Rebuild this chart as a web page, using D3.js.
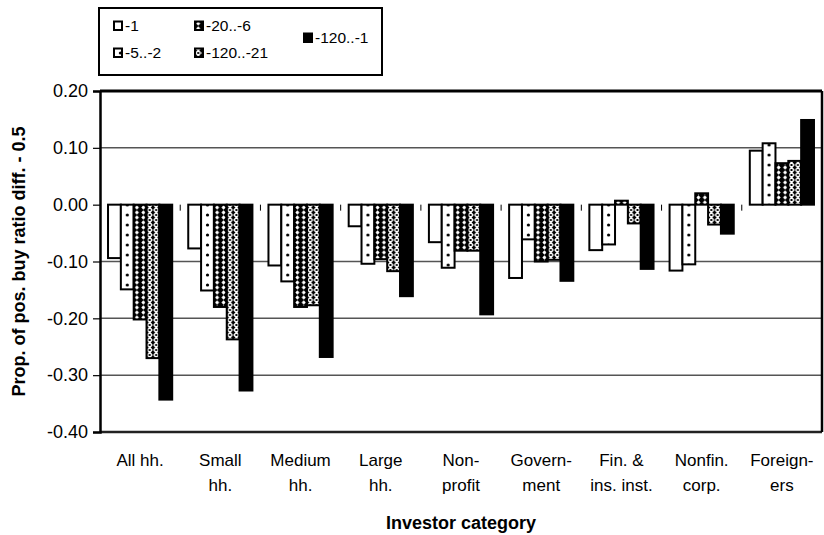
<!DOCTYPE html>
<html>
<head>
<meta charset="utf-8">
<script src="https://cdn.jsdelivr.net/npm/d3@7"></script>
<style>
  body { margin: 0; background: #fff; }
  text { font-family: "Liberation Sans", Arial, sans-serif; fill: #000; }
</style>
</head>
<body>
<div id="chart"></div>
<script>
// categories (two label lines each) and the five series
const categories = ["All hh.", "Small hh.", "Medium hh.", "Large hh.", "Non-profit",
                    "Government", "Fin. & ins. inst.", "Nonfin. corp.", "Foreigners"];
const categoryLines = [["All hh."], ["Small", "hh."], ["Medium", "hh."], ["Large", "hh."],
                       ["Non-", "profit"], ["Govern-", "ment"], ["Fin. &", "ins. inst."],
                       ["Nonfin.", "corp."], ["Foreign-", "ers"]];
const seriesNames = ["-1", "-5..-2", "-20..-6", "-120..-21", "-120..-1"];

const lag1      = [-0.094, -0.077, -0.107, -0.038, -0.066, -0.129, -0.080, -0.116, 0.095];
const lag5to2   = [-0.149, -0.151, -0.135, -0.104, -0.111, -0.061, -0.070, -0.105, 0.108];
const lag20to6  = [-0.202, -0.180, -0.180, -0.096, -0.081, -0.100, 0.007, 0.020, 0.073];
const lag120to21 = [-0.270, -0.237, -0.177, -0.117, -0.081, -0.097, -0.033, -0.035, 0.077];
const lag120to1 = [-0.343, -0.327, -0.268, -0.161, -0.193, -0.134, -0.113, -0.051, 0.149];
const seriesValues = [lag1, lag5to2, lag20to6, lag120to21, lag120to1];

const yTicks = [0.2, 0.1, 0.0, -0.1, -0.2, -0.3, -0.4];
const yTitle = "Prop. of pos. buy ratio diff. - 0.5";
const xTitle = "Investor category";

const width = 824, height = 535;
const plot = { left: 100, right: 822, top: 91, bottom: 432 };

const svg = d3.select("#chart").append("svg")
    .attr("width", width)
    .attr("height", height);

const x0 = d3.scaleBand().domain(categories)
    .range([plot.left, plot.right]).paddingInner(0.2).paddingOuter(0.1);
const x1 = d3.scaleBand().domain(seriesNames).range([0, x0.bandwidth()]);
const y = d3.scaleLinear().domain([-0.4, 0.2]).range([plot.bottom, plot.top]);

// fill patterns (Excel style)
const defs = svg.append("defs");
const bw = x1.bandwidth();

const dots = defs.append("pattern").attr("id", "p-dots")
    .attr("patternUnits", "userSpaceOnUse").attr("width", bw).attr("height", 10);
dots.append("rect").attr("width", bw).attr("height", 10).attr("fill", "#fff");
dots.append("circle").attr("cx", bw / 2).attr("cy", 5).attr("r", 1.6).attr("fill", "#000");

const dense = defs.append("pattern").attr("id", "p-dense")
    .attr("patternUnits", "userSpaceOnUse").attr("width", bw / 2).attr("height", 5);
dense.append("rect").attr("width", bw / 2).attr("height", 5).attr("fill", "#000");
dense.append("path")
    .attr("d", `M${bw / 4},0.3 L${bw / 4 + 2},2.5 L${bw / 4},4.7 L${bw / 4 - 2},2.5Z`)
    .attr("fill", "#fff");

const light = defs.append("pattern").attr("id", "p-light")
    .attr("patternUnits", "userSpaceOnUse").attr("width", bw / 2).attr("height", 5);
light.append("rect").attr("width", bw / 2).attr("height", 5).attr("fill", "#000");
light.append("path")
    .attr("d", `M0.8,0 L${bw / 4},2.5 L0.8,5 M${bw / 2 - 0.8},0 L${bw / 4},2.5 L${bw / 2 - 0.8},5`)
    .attr("stroke", "#fff").attr("stroke-width", 1.4).attr("fill", "none");

const fills = ["#fff", "url(#p-dots)", "url(#p-dense)", "url(#p-light)", "#000"];

// gridlines
svg.append("g").selectAll("line")
    .data(yTicks.filter(t => t !== 0 && t !== 0.2 && t !== -0.4))
    .join("line")
    .attr("x1", plot.left).attr("x2", plot.right)
    .attr("y1", d => y(d)).attr("y2", d => y(d))
    .attr("stroke", "#555").attr("stroke-width", 1.5);

// bars
const groups = svg.append("g").selectAll("g")
    .data(categories)
    .join("g");

groups.each(function(cat, i) {
    d3.select(this).selectAll("g")
        .data(seriesNames.map((s, j) => ({ s, j, v: seriesValues[j][i] })))
        .join("g")
        .attr("transform", d => `translate(${x0(cat) + x1(d.s)},0)`)
        .append("rect")
        .attr("x", 0)
        .attr("y", d => Math.min(y(d.v), y(0)))
        .attr("width", bw)
        .attr("height", d => Math.abs(y(d.v) - y(0)))
        .attr("fill", d => fills[d.j])
        .attr("stroke", "#000")
        .attr("stroke-width", 2);
});

// category ticks at the zero line
const bounds = categories.slice(1).map(c => x0(c) - x0.step() * x0.paddingInner() / 2);
svg.append("g").selectAll("line")
    .data(bounds)
    .join("line")
    .attr("x1", d => d).attr("x2", d => d)
    .attr("y1", y(0)).attr("y2", y(0) + 6)
    .attr("stroke", "#000").attr("stroke-width", 1);

// plot frame
svg.append("line").attr("x1", plot.left).attr("x2", plot.right)
    .attr("y1", y(0.2)).attr("y2", y(0.2)).attr("stroke", "#000").attr("stroke-width", 3);
svg.append("line").attr("x1", plot.left).attr("x2", plot.right)
    .attr("y1", y(-0.4)).attr("y2", y(-0.4)).attr("stroke", "#222").attr("stroke-width", 2.5);
svg.append("line").attr("x1", plot.right).attr("x2", plot.right)
    .attr("y1", y(0.2)).attr("y2", y(-0.4)).attr("stroke", "#000").attr("stroke-width", 2.5);

// y axis
const fmt = d3.formatLocale({ decimal: ".", thousands: ",", grouping: [3], currency: ["", ""], minus: "-" }).format(".2f");
const yAxis = d3.axisLeft(y).tickValues(yTicks).tickFormat(fmt).tickSize(7).tickPadding(5);
const yAxisGroup = svg.append("g")
    .attr("transform", `translate(${plot.left},0)`)
    .call(yAxis);
yAxisGroup.select(".domain").attr("stroke", "#000").attr("stroke-width", 2.5);
yAxisGroup.selectAll(".tick line").attr("stroke", "#000").attr("stroke-width", 1.2);
yAxisGroup.selectAll(".tick text")
    .style("font-family", '"Liberation Sans", Arial, sans-serif')
    .style("font-size", "18px")
    .attr("fill", "#000");

// x category labels
const xLabels = svg.append("g").selectAll("text")
    .data(categories)
    .join("text")
    .attr("x", d => x0(d) + x0.bandwidth() / 2)
    .attr("y", 466)
    .attr("text-anchor", "middle")
    .style("font-size", "17px");
xLabels.selectAll("tspan")
    .data((d, i) => categoryLines[i])
    .join("tspan")
    .attr("x", function() { return d3.select(this.parentNode).attr("x"); })
    .attr("dy", (d, k) => k === 0 ? 0 : 25)
    .text(d => d);

// axis titles
svg.append("text")
    .attr("x", (plot.left + plot.right) / 2)
    .attr("y", 529)
    .attr("text-anchor", "middle")
    .style("font-size", "18px")
    .style("font-weight", "bold")
    .text(xTitle);

svg.append("text")
    .attr("transform", `translate(25,${(plot.top + plot.bottom) / 2}) rotate(-90)`)
    .attr("text-anchor", "middle")
    .style("font-size", "18px")
    .style("font-weight", "bold")
    .text(yTitle);

// legend
const legend = svg.append("g");
legend.append("rect")
    .attr("x", 99).attr("y", 8).attr("width", 283).attr("height", 67)
    .attr("fill", "#fff").attr("stroke", "#000").attr("stroke-width", 2);

const legendPos = [[114, 31], [114, 58], [195, 31], [195, 58], [304, 43]];
const items = legend.selectAll("g.item")
    .data(seriesNames)
    .join("g")
    .attr("class", "item")
    .attr("transform", (d, i) => `translate(${legendPos[i][0]},${legendPos[i][1]})`);
items.append("rect")
    .attr("x", 0).attr("y", -9.5).attr("width", 8).attr("height", 8.5)
    .attr("fill", (d, i) => fills[i])
    .attr("stroke", "#000").attr("stroke-width", 2);
items.append("text")
    .attr("x", 11).attr("y", 0)
    .style("font-size", "15.5px")
    .text(d => d);
</script>
</body>
</html>
